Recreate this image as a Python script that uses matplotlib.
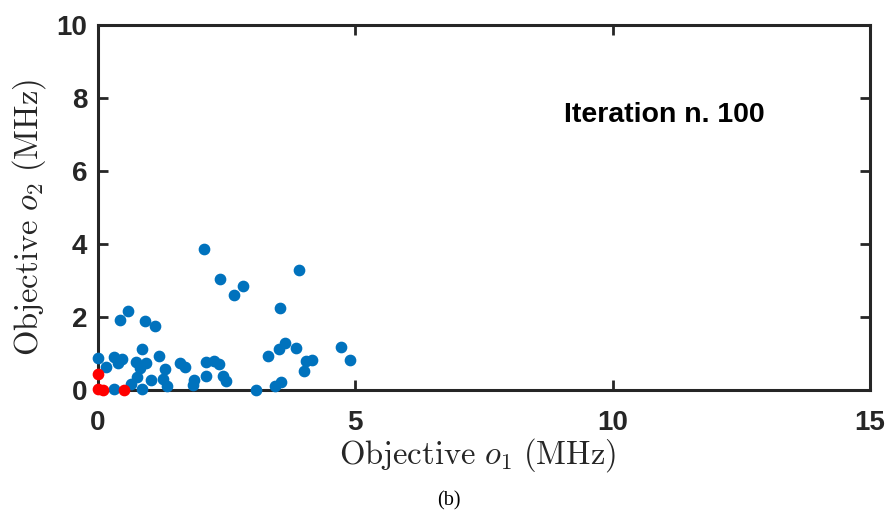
import matplotlib.pyplot as plt
import numpy as np

# population at iteration 100 (MHz)
blue_o1 = [2.06, 2.38, 2.64, 2.82, 3.55, 0.60, 0.44, 0.92, 1.11, 0.86,
           0.01, 0.32, 0.47, 0.39, 0.17, 0.74, 0.95, 0.82, 0.77, 0.65,
           0.86, 0.32, 1.04, 1.20, 1.31, 1.27, 1.35, 1.60, 1.70, 1.87,
           1.86, 2.10, 2.26, 2.36, 2.11, 2.43, 2.49, 3.07, 3.31, 3.52,
           3.44, 3.56, 3.92, 3.64, 3.86, 4.73, 4.91, 4.05, 4.16, 4.01]
blue_o2 = [3.87, 3.05, 2.59, 2.86, 2.25, 2.17, 1.93, 1.89, 1.74, 1.11,
           0.87, 0.91, 0.84, 0.73, 0.64, 0.76, 0.75, 0.59, 0.36, 0.16,
           0.04, 0.04, 0.27, 0.94, 0.57, 0.30, 0.12, 0.73, 0.62, 0.27,
           0.13, 0.77, 0.80, 0.70, 0.38, 0.38, 0.25, 0.00, 0.92, 1.13,
           0.11, 0.23, 3.29, 1.29, 1.15, 1.18, 0.82, 0.80, 0.82, 0.53]

# pareto front
red_o1 = [0.01, 0.01, 0.10, 0.51]
red_o2 = [0.43, 0.02, 0.00, 0.00]

plt.rcParams['mathtext.fontset'] = 'cm'

fig = plt.figure(figsize=(8.9, 5.13), dpi=100)
ax = fig.add_axes([0.1096, 0.2398, 0.8680, 0.7115])

ax.scatter(blue_o1, blue_o2, s=55, color='#0072BD', zorder=3, clip_on=False)
ax.scatter(red_o1, red_o2, s=55, color='#FF0000', zorder=4, clip_on=False)

ax.set_xlim(0, 15)
ax.set_ylim(0, 10)
ax.set_xticks([0, 5, 10, 15])
ax.set_yticks([0, 2, 4, 6, 8, 10])

for s in ax.spines.values():
    s.set_linewidth(2.2)
    s.set_color('#262626')
ax.tick_params(direction='in', length=7, width=2, colors='#262626',
               top=True, right=True, labelsize=20)
ax.tick_params(axis='x', pad=14.5)
ax.tick_params(axis='y', pad=7.5)
for lbl in ax.get_xticklabels() + ax.get_yticklabels():
    lbl.set_fontweight('bold')
    lbl.set_family('Liberation Sans')

ax.set_xlabel(r'$\mathrm{Objective}\ o_1\ \mathrm{(MHz)}$', fontsize=23.5,
              color='#262626')
ax.set_ylabel(r'$\mathrm{Objective}\ o_2\ \mathrm{(MHz)}$', fontsize=23.5,
              color='#262626')
ax.xaxis.set_label_coords(0.492, -0.126)
ax.yaxis.set_label_coords(-0.064, 0.474)

ax.text(11.0, 7.53, 'Iteration n. 100', fontsize=20.5, fontweight='bold',
        family='Liberation Sans', ha='center', va='center', color='#000000')

fig.text(0.5045, 0.0234, '(b)', fontsize=14.5, family='Liberation Serif',
         ha='center', va='center')

fig.savefig('out.png', dpi=100)
